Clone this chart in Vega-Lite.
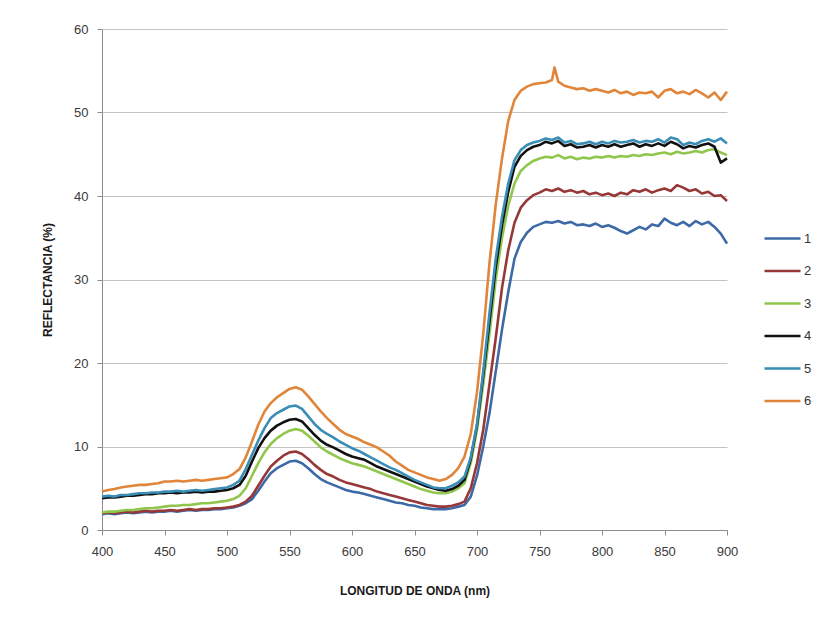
{
  "$schema": "https://vega.github.io/schema/vega-lite/v6.json",
  "autosize": "none",
  "width": 625,
  "height": 501,
  "padding": {"left": 102, "top": 29, "right": 93, "bottom": 90},
  "background": "white",
  "config": {
    "view": {"stroke": null},
    "font": "Liberation Sans Narrow, Liberation Sans, sans-serif",
    "axis": {
      "labelFont": "Liberation Sans Narrow, Liberation Sans, sans-serif",
      "titleFont": "Liberation Sans Narrow, Liberation Sans, sans-serif",
      "labelColor": "#3a3a3a",
      "titleColor": "#1a1a1a",
      "domainColor": "#8c8c8c",
      "tickColor": "#8c8c8c",
      "gridColor": "#c4c4c4",
      "labelFontSize": 13,
      "titleFontSize": 12,
      "titleFontWeight": "bold"
    },
    "legend": {
      "labelFont": "Liberation Sans Narrow, Liberation Sans, sans-serif",
      "labelFontSize": 13,
      "labelColor": "#333333"
    }
  },
  "data": {
    "values": [
      {"nm":400,"s":"1","r":1.9},{"nm":405,"s":"1","r":2.0},{"nm":410,"s":"1","r":1.9},{"nm":415,"s":"1","r":2.0},{"nm":420,"s":"1","r":2.1},{"nm":425,"s":"1","r":2.0},{"nm":430,"s":"1","r":2.1},{"nm":435,"s":"1","r":2.2},{"nm":440,"s":"1","r":2.1},{"nm":445,"s":"1","r":2.2},
      {"nm":450,"s":"1","r":2.2},{"nm":455,"s":"1","r":2.3},{"nm":460,"s":"1","r":2.2},{"nm":465,"s":"1","r":2.3},{"nm":470,"s":"1","r":2.4},{"nm":475,"s":"1","r":2.3},{"nm":480,"s":"1","r":2.4},{"nm":485,"s":"1","r":2.4},{"nm":490,"s":"1","r":2.5},{"nm":495,"s":"1","r":2.5},
      {"nm":500,"s":"1","r":2.6},{"nm":505,"s":"1","r":2.7},{"nm":510,"s":"1","r":2.9},{"nm":515,"s":"1","r":3.2},{"nm":520,"s":"1","r":3.7},{"nm":525,"s":"1","r":4.7},{"nm":530,"s":"1","r":5.8},{"nm":535,"s":"1","r":6.8},{"nm":540,"s":"1","r":7.4},{"nm":545,"s":"1","r":7.8},
      {"nm":550,"s":"1","r":8.2},{"nm":555,"s":"1","r":8.3},{"nm":560,"s":"1","r":8.0},{"nm":565,"s":"1","r":7.4},{"nm":570,"s":"1","r":6.7},{"nm":575,"s":"1","r":6.1},{"nm":580,"s":"1","r":5.7},{"nm":585,"s":"1","r":5.4},{"nm":590,"s":"1","r":5.1},{"nm":595,"s":"1","r":4.8},
      {"nm":600,"s":"1","r":4.6},{"nm":605,"s":"1","r":4.5},{"nm":610,"s":"1","r":4.3},{"nm":615,"s":"1","r":4.1},{"nm":620,"s":"1","r":3.9},{"nm":625,"s":"1","r":3.7},{"nm":630,"s":"1","r":3.5},{"nm":635,"s":"1","r":3.3},{"nm":640,"s":"1","r":3.2},{"nm":645,"s":"1","r":3.0},
      {"nm":650,"s":"1","r":2.9},{"nm":655,"s":"1","r":2.7},{"nm":660,"s":"1","r":2.6},{"nm":665,"s":"1","r":2.5},{"nm":670,"s":"1","r":2.5},{"nm":675,"s":"1","r":2.5},{"nm":680,"s":"1","r":2.6},{"nm":685,"s":"1","r":2.8},{"nm":690,"s":"1","r":3.0},{"nm":695,"s":"1","r":4.0},
      {"nm":700,"s":"1","r":6.5},{"nm":705,"s":"1","r":10.0},{"nm":710,"s":"1","r":14.0},{"nm":715,"s":"1","r":19.0},{"nm":720,"s":"1","r":24.0},{"nm":725,"s":"1","r":28.5},{"nm":730,"s":"1","r":32.5},{"nm":735,"s":"1","r":34.5},{"nm":740,"s":"1","r":35.6},{"nm":745,"s":"1","r":36.3},
      {"nm":750,"s":"1","r":36.6},{"nm":755,"s":"1","r":36.9},{"nm":760,"s":"1","r":36.8},{"nm":765,"s":"1","r":37.0},{"nm":770,"s":"1","r":36.7},{"nm":775,"s":"1","r":36.9},{"nm":780,"s":"1","r":36.5},{"nm":785,"s":"1","r":36.6},{"nm":790,"s":"1","r":36.4},{"nm":795,"s":"1","r":36.7},
      {"nm":800,"s":"1","r":36.3},{"nm":805,"s":"1","r":36.5},{"nm":810,"s":"1","r":36.2},{"nm":815,"s":"1","r":35.8},{"nm":820,"s":"1","r":35.5},{"nm":825,"s":"1","r":35.9},{"nm":830,"s":"1","r":36.3},{"nm":835,"s":"1","r":36.0},{"nm":840,"s":"1","r":36.6},{"nm":845,"s":"1","r":36.4},
      {"nm":850,"s":"1","r":37.3},{"nm":855,"s":"1","r":36.8},{"nm":860,"s":"1","r":36.5},{"nm":865,"s":"1","r":36.9},{"nm":870,"s":"1","r":36.4},{"nm":875,"s":"1","r":37.0},{"nm":880,"s":"1","r":36.6},{"nm":885,"s":"1","r":36.9},{"nm":890,"s":"1","r":36.3},{"nm":895,"s":"1","r":35.5},
      {"nm":900,"s":"1","r":34.3},

      {"nm":400,"s":"2","r":2.0},{"nm":405,"s":"2","r":2.1},{"nm":410,"s":"2","r":2.0},{"nm":415,"s":"2","r":2.1},{"nm":420,"s":"2","r":2.2},{"nm":425,"s":"2","r":2.1},{"nm":430,"s":"2","r":2.2},{"nm":435,"s":"2","r":2.3},{"nm":440,"s":"2","r":2.2},{"nm":445,"s":"2","r":2.3},
      {"nm":450,"s":"2","r":2.3},{"nm":455,"s":"2","r":2.4},{"nm":460,"s":"2","r":2.3},{"nm":465,"s":"2","r":2.4},{"nm":470,"s":"2","r":2.5},{"nm":475,"s":"2","r":2.4},{"nm":480,"s":"2","r":2.5},{"nm":485,"s":"2","r":2.5},{"nm":490,"s":"2","r":2.6},{"nm":495,"s":"2","r":2.6},
      {"nm":500,"s":"2","r":2.7},{"nm":505,"s":"2","r":2.8},{"nm":510,"s":"2","r":3.0},{"nm":515,"s":"2","r":3.4},{"nm":520,"s":"2","r":4.1},{"nm":525,"s":"2","r":5.3},{"nm":530,"s":"2","r":6.5},{"nm":535,"s":"2","r":7.6},{"nm":540,"s":"2","r":8.3},{"nm":545,"s":"2","r":8.9},
      {"nm":550,"s":"2","r":9.3},{"nm":555,"s":"2","r":9.4},{"nm":560,"s":"2","r":9.1},{"nm":565,"s":"2","r":8.5},{"nm":570,"s":"2","r":7.8},{"nm":575,"s":"2","r":7.2},{"nm":580,"s":"2","r":6.7},{"nm":585,"s":"2","r":6.4},{"nm":590,"s":"2","r":6.0},{"nm":595,"s":"2","r":5.7},
      {"nm":600,"s":"2","r":5.5},{"nm":605,"s":"2","r":5.3},{"nm":610,"s":"2","r":5.1},{"nm":615,"s":"2","r":4.9},{"nm":620,"s":"2","r":4.6},{"nm":625,"s":"2","r":4.4},{"nm":630,"s":"2","r":4.2},{"nm":635,"s":"2","r":4.0},{"nm":640,"s":"2","r":3.8},{"nm":645,"s":"2","r":3.6},
      {"nm":650,"s":"2","r":3.4},{"nm":655,"s":"2","r":3.2},{"nm":660,"s":"2","r":3.0},{"nm":665,"s":"2","r":2.9},{"nm":670,"s":"2","r":2.8},{"nm":675,"s":"2","r":2.8},{"nm":680,"s":"2","r":2.9},{"nm":685,"s":"2","r":3.1},{"nm":690,"s":"2","r":3.4},{"nm":695,"s":"2","r":5.0},
      {"nm":700,"s":"2","r":8.0},{"nm":705,"s":"2","r":12.0},{"nm":710,"s":"2","r":17.5},{"nm":715,"s":"2","r":23.0},{"nm":720,"s":"2","r":29.0},{"nm":725,"s":"2","r":33.5},{"nm":730,"s":"2","r":36.8},{"nm":735,"s":"2","r":38.6},{"nm":740,"s":"2","r":39.5},{"nm":745,"s":"2","r":40.1},
      {"nm":750,"s":"2","r":40.4},{"nm":755,"s":"2","r":40.8},{"nm":760,"s":"2","r":40.6},{"nm":765,"s":"2","r":40.9},{"nm":770,"s":"2","r":40.5},{"nm":775,"s":"2","r":40.7},{"nm":780,"s":"2","r":40.4},{"nm":785,"s":"2","r":40.6},{"nm":790,"s":"2","r":40.2},{"nm":795,"s":"2","r":40.4},
      {"nm":800,"s":"2","r":40.1},{"nm":805,"s":"2","r":40.3},{"nm":810,"s":"2","r":40.0},{"nm":815,"s":"2","r":40.4},{"nm":820,"s":"2","r":40.2},{"nm":825,"s":"2","r":40.7},{"nm":830,"s":"2","r":40.5},{"nm":835,"s":"2","r":40.8},{"nm":840,"s":"2","r":40.4},{"nm":845,"s":"2","r":40.7},
      {"nm":850,"s":"2","r":40.9},{"nm":855,"s":"2","r":40.6},{"nm":860,"s":"2","r":41.3},{"nm":865,"s":"2","r":41.0},{"nm":870,"s":"2","r":40.6},{"nm":875,"s":"2","r":40.8},{"nm":880,"s":"2","r":40.3},{"nm":885,"s":"2","r":40.5},{"nm":890,"s":"2","r":40.0},{"nm":895,"s":"2","r":40.1},
      {"nm":900,"s":"2","r":39.4},

      {"nm":400,"s":"3","r":2.1},{"nm":405,"s":"3","r":2.2},{"nm":410,"s":"3","r":2.2},{"nm":415,"s":"3","r":2.3},{"nm":420,"s":"3","r":2.4},{"nm":425,"s":"3","r":2.4},{"nm":430,"s":"3","r":2.5},{"nm":435,"s":"3","r":2.6},{"nm":440,"s":"3","r":2.6},{"nm":445,"s":"3","r":2.7},
      {"nm":450,"s":"3","r":2.8},{"nm":455,"s":"3","r":2.9},{"nm":460,"s":"3","r":2.9},{"nm":465,"s":"3","r":3.0},{"nm":470,"s":"3","r":3.0},{"nm":475,"s":"3","r":3.1},{"nm":480,"s":"3","r":3.2},{"nm":485,"s":"3","r":3.2},{"nm":490,"s":"3","r":3.3},{"nm":495,"s":"3","r":3.4},
      {"nm":500,"s":"3","r":3.5},{"nm":505,"s":"3","r":3.7},{"nm":510,"s":"3","r":4.1},{"nm":515,"s":"3","r":5.0},{"nm":520,"s":"3","r":6.5},{"nm":525,"s":"3","r":8.0},{"nm":530,"s":"3","r":9.3},{"nm":535,"s":"3","r":10.3},{"nm":540,"s":"3","r":11.0},{"nm":545,"s":"3","r":11.5},
      {"nm":550,"s":"3","r":11.9},{"nm":555,"s":"3","r":12.1},{"nm":560,"s":"3","r":11.9},{"nm":565,"s":"3","r":11.3},{"nm":570,"s":"3","r":10.6},{"nm":575,"s":"3","r":9.9},{"nm":580,"s":"3","r":9.4},{"nm":585,"s":"3","r":9.0},{"nm":590,"s":"3","r":8.6},{"nm":595,"s":"3","r":8.3},
      {"nm":600,"s":"3","r":8.0},{"nm":605,"s":"3","r":7.8},{"nm":610,"s":"3","r":7.6},{"nm":615,"s":"3","r":7.3},{"nm":620,"s":"3","r":7.0},{"nm":625,"s":"3","r":6.7},{"nm":630,"s":"3","r":6.4},{"nm":635,"s":"3","r":6.1},{"nm":640,"s":"3","r":5.8},{"nm":645,"s":"3","r":5.5},
      {"nm":650,"s":"3","r":5.2},{"nm":655,"s":"3","r":4.9},{"nm":660,"s":"3","r":4.7},{"nm":665,"s":"3","r":4.5},{"nm":670,"s":"3","r":4.4},{"nm":675,"s":"3","r":4.4},{"nm":680,"s":"3","r":4.6},{"nm":685,"s":"3","r":5.0},{"nm":690,"s":"3","r":5.6},{"nm":695,"s":"3","r":8.0},
      {"nm":700,"s":"3","r":12.0},{"nm":705,"s":"3","r":17.5},{"nm":710,"s":"3","r":23.5},{"nm":715,"s":"3","r":30.0},{"nm":720,"s":"3","r":35.0},{"nm":725,"s":"3","r":38.8},{"nm":730,"s":"3","r":41.5},{"nm":735,"s":"3","r":43.0},{"nm":740,"s":"3","r":43.7},{"nm":745,"s":"3","r":44.2},
      {"nm":750,"s":"3","r":44.5},{"nm":755,"s":"3","r":44.7},{"nm":760,"s":"3","r":44.6},{"nm":765,"s":"3","r":44.9},{"nm":770,"s":"3","r":44.5},{"nm":775,"s":"3","r":44.7},{"nm":780,"s":"3","r":44.4},{"nm":785,"s":"3","r":44.6},{"nm":790,"s":"3","r":44.5},{"nm":795,"s":"3","r":44.7},
      {"nm":800,"s":"3","r":44.6},{"nm":805,"s":"3","r":44.8},{"nm":810,"s":"3","r":44.6},{"nm":815,"s":"3","r":44.8},{"nm":820,"s":"3","r":44.7},{"nm":825,"s":"3","r":44.9},{"nm":830,"s":"3","r":44.8},{"nm":835,"s":"3","r":45.0},{"nm":840,"s":"3","r":44.9},{"nm":845,"s":"3","r":45.1},
      {"nm":850,"s":"3","r":45.2},{"nm":855,"s":"3","r":45.0},{"nm":860,"s":"3","r":45.3},{"nm":865,"s":"3","r":45.1},{"nm":870,"s":"3","r":45.2},{"nm":875,"s":"3","r":45.4},{"nm":880,"s":"3","r":45.2},{"nm":885,"s":"3","r":45.5},{"nm":890,"s":"3","r":45.6},{"nm":895,"s":"3","r":45.2},
      {"nm":900,"s":"3","r":44.9},

      {"nm":400,"s":"4","r":3.8},{"nm":405,"s":"4","r":3.9},{"nm":410,"s":"4","r":3.9},{"nm":415,"s":"4","r":4.0},{"nm":420,"s":"4","r":4.1},{"nm":425,"s":"4","r":4.1},{"nm":430,"s":"4","r":4.2},{"nm":435,"s":"4","r":4.3},{"nm":440,"s":"4","r":4.3},{"nm":445,"s":"4","r":4.4},
      {"nm":450,"s":"4","r":4.4},{"nm":455,"s":"4","r":4.5},{"nm":460,"s":"4","r":4.4},{"nm":465,"s":"4","r":4.5},{"nm":470,"s":"4","r":4.5},{"nm":475,"s":"4","r":4.6},{"nm":480,"s":"4","r":4.5},{"nm":485,"s":"4","r":4.6},{"nm":490,"s":"4","r":4.6},{"nm":495,"s":"4","r":4.7},
      {"nm":500,"s":"4","r":4.8},{"nm":505,"s":"4","r":5.0},{"nm":510,"s":"4","r":5.4},{"nm":515,"s":"4","r":6.5},{"nm":520,"s":"4","r":8.2},{"nm":525,"s":"4","r":9.8},{"nm":530,"s":"4","r":11.0},{"nm":535,"s":"4","r":11.9},{"nm":540,"s":"4","r":12.5},{"nm":545,"s":"4","r":12.9},
      {"nm":550,"s":"4","r":13.2},{"nm":555,"s":"4","r":13.3},{"nm":560,"s":"4","r":13.0},{"nm":565,"s":"4","r":12.2},{"nm":570,"s":"4","r":11.4},{"nm":575,"s":"4","r":10.7},{"nm":580,"s":"4","r":10.2},{"nm":585,"s":"4","r":9.9},{"nm":590,"s":"4","r":9.5},{"nm":595,"s":"4","r":9.1},
      {"nm":600,"s":"4","r":8.8},{"nm":605,"s":"4","r":8.6},{"nm":610,"s":"4","r":8.4},{"nm":615,"s":"4","r":8.0},{"nm":620,"s":"4","r":7.6},{"nm":625,"s":"4","r":7.3},{"nm":630,"s":"4","r":7.0},{"nm":635,"s":"4","r":6.7},{"nm":640,"s":"4","r":6.4},{"nm":645,"s":"4","r":6.1},
      {"nm":650,"s":"4","r":5.8},{"nm":655,"s":"4","r":5.5},{"nm":660,"s":"4","r":5.2},{"nm":665,"s":"4","r":5.0},{"nm":670,"s":"4","r":4.8},{"nm":675,"s":"4","r":4.7},{"nm":680,"s":"4","r":4.9},{"nm":685,"s":"4","r":5.3},{"nm":690,"s":"4","r":6.0},{"nm":695,"s":"4","r":8.5},
      {"nm":700,"s":"4","r":12.5},{"nm":705,"s":"4","r":18.5},{"nm":710,"s":"4","r":25.0},{"nm":715,"s":"4","r":31.5},{"nm":720,"s":"4","r":36.5},{"nm":725,"s":"4","r":40.5},{"nm":730,"s":"4","r":43.5},{"nm":735,"s":"4","r":44.8},{"nm":740,"s":"4","r":45.5},{"nm":745,"s":"4","r":45.9},
      {"nm":750,"s":"4","r":46.1},{"nm":755,"s":"4","r":46.5},{"nm":760,"s":"4","r":46.3},{"nm":765,"s":"4","r":46.6},{"nm":770,"s":"4","r":46.0},{"nm":775,"s":"4","r":46.2},{"nm":780,"s":"4","r":45.8},{"nm":785,"s":"4","r":45.9},{"nm":790,"s":"4","r":46.1},{"nm":795,"s":"4","r":45.8},
      {"nm":800,"s":"4","r":46.1},{"nm":805,"s":"4","r":45.9},{"nm":810,"s":"4","r":46.2},{"nm":815,"s":"4","r":45.9},{"nm":820,"s":"4","r":46.1},{"nm":825,"s":"4","r":46.3},{"nm":830,"s":"4","r":45.9},{"nm":835,"s":"4","r":46.2},{"nm":840,"s":"4","r":46.0},{"nm":845,"s":"4","r":46.3},
      {"nm":850,"s":"4","r":46.0},{"nm":855,"s":"4","r":46.5},{"nm":860,"s":"4","r":46.2},{"nm":865,"s":"4","r":45.7},{"nm":870,"s":"4","r":46.0},{"nm":875,"s":"4","r":45.8},{"nm":880,"s":"4","r":46.1},{"nm":885,"s":"4","r":46.3},{"nm":890,"s":"4","r":45.9},{"nm":895,"s":"4","r":44.0},
      {"nm":900,"s":"4","r":44.5},

      {"nm":400,"s":"5","r":4.0},{"nm":405,"s":"5","r":4.1},{"nm":410,"s":"5","r":4.0},{"nm":415,"s":"5","r":4.2},{"nm":420,"s":"5","r":4.2},{"nm":425,"s":"5","r":4.3},{"nm":430,"s":"5","r":4.4},{"nm":435,"s":"5","r":4.4},{"nm":440,"s":"5","r":4.5},{"nm":445,"s":"5","r":4.5},
      {"nm":450,"s":"5","r":4.6},{"nm":455,"s":"5","r":4.6},{"nm":460,"s":"5","r":4.7},{"nm":465,"s":"5","r":4.6},{"nm":470,"s":"5","r":4.7},{"nm":475,"s":"5","r":4.8},{"nm":480,"s":"5","r":4.7},{"nm":485,"s":"5","r":4.8},{"nm":490,"s":"5","r":4.9},{"nm":495,"s":"5","r":5.0},
      {"nm":500,"s":"5","r":5.1},{"nm":505,"s":"5","r":5.4},{"nm":510,"s":"5","r":5.9},{"nm":515,"s":"5","r":7.3},{"nm":520,"s":"5","r":9.0},{"nm":525,"s":"5","r":10.7},{"nm":530,"s":"5","r":12.2},{"nm":535,"s":"5","r":13.4},{"nm":540,"s":"5","r":14.0},{"nm":545,"s":"5","r":14.4},
      {"nm":550,"s":"5","r":14.8},{"nm":555,"s":"5","r":14.9},{"nm":560,"s":"5","r":14.5},{"nm":565,"s":"5","r":13.6},{"nm":570,"s":"5","r":12.7},{"nm":575,"s":"5","r":12.0},{"nm":580,"s":"5","r":11.5},{"nm":585,"s":"5","r":11.1},{"nm":590,"s":"5","r":10.6},{"nm":595,"s":"5","r":10.2},
      {"nm":600,"s":"5","r":9.8},{"nm":605,"s":"5","r":9.5},{"nm":610,"s":"5","r":9.1},{"nm":615,"s":"5","r":8.7},{"nm":620,"s":"5","r":8.3},{"nm":625,"s":"5","r":7.9},{"nm":630,"s":"5","r":7.5},{"nm":635,"s":"5","r":7.2},{"nm":640,"s":"5","r":6.8},{"nm":645,"s":"5","r":6.4},
      {"nm":650,"s":"5","r":6.0},{"nm":655,"s":"5","r":5.7},{"nm":660,"s":"5","r":5.4},{"nm":665,"s":"5","r":5.1},{"nm":670,"s":"5","r":5.0},{"nm":675,"s":"5","r":5.0},{"nm":680,"s":"5","r":5.3},{"nm":685,"s":"5","r":5.7},{"nm":690,"s":"5","r":6.4},{"nm":695,"s":"5","r":8.7},
      {"nm":700,"s":"5","r":12.7},{"nm":705,"s":"5","r":19.0},{"nm":710,"s":"5","r":26.0},{"nm":715,"s":"5","r":32.5},{"nm":720,"s":"5","r":37.5},{"nm":725,"s":"5","r":41.5},{"nm":730,"s":"5","r":44.3},{"nm":735,"s":"5","r":45.5},{"nm":740,"s":"5","r":46.1},{"nm":745,"s":"5","r":46.4},
      {"nm":750,"s":"5","r":46.6},{"nm":755,"s":"5","r":46.9},{"nm":760,"s":"5","r":46.7},{"nm":765,"s":"5","r":47.0},{"nm":770,"s":"5","r":46.4},{"nm":775,"s":"5","r":46.6},{"nm":780,"s":"5","r":46.2},{"nm":785,"s":"5","r":46.3},{"nm":790,"s":"5","r":46.5},{"nm":795,"s":"5","r":46.2},
      {"nm":800,"s":"5","r":46.5},{"nm":805,"s":"5","r":46.3},{"nm":810,"s":"5","r":46.6},{"nm":815,"s":"5","r":46.4},{"nm":820,"s":"5","r":46.5},{"nm":825,"s":"5","r":46.7},{"nm":830,"s":"5","r":46.4},{"nm":835,"s":"5","r":46.6},{"nm":840,"s":"5","r":46.5},{"nm":845,"s":"5","r":46.8},
      {"nm":850,"s":"5","r":46.4},{"nm":855,"s":"5","r":47.0},{"nm":860,"s":"5","r":46.8},{"nm":865,"s":"5","r":46.1},{"nm":870,"s":"5","r":46.4},{"nm":875,"s":"5","r":46.2},{"nm":880,"s":"5","r":46.6},{"nm":885,"s":"5","r":46.8},{"nm":890,"s":"5","r":46.5},{"nm":895,"s":"5","r":46.9},
      {"nm":900,"s":"5","r":46.3},

      {"nm":400,"s":"6","r":4.6},{"nm":405,"s":"6","r":4.8},{"nm":410,"s":"6","r":4.9},{"nm":415,"s":"6","r":5.1},{"nm":420,"s":"6","r":5.2},{"nm":425,"s":"6","r":5.3},{"nm":430,"s":"6","r":5.4},{"nm":435,"s":"6","r":5.4},{"nm":440,"s":"6","r":5.5},{"nm":445,"s":"6","r":5.6},
      {"nm":450,"s":"6","r":5.8},{"nm":455,"s":"6","r":5.8},{"nm":460,"s":"6","r":5.9},{"nm":465,"s":"6","r":5.8},{"nm":470,"s":"6","r":5.9},{"nm":475,"s":"6","r":6.0},{"nm":480,"s":"6","r":5.9},{"nm":485,"s":"6","r":6.0},{"nm":490,"s":"6","r":6.1},{"nm":495,"s":"6","r":6.2},
      {"nm":500,"s":"6","r":6.3},{"nm":505,"s":"6","r":6.7},{"nm":510,"s":"6","r":7.3},{"nm":515,"s":"6","r":8.7},{"nm":520,"s":"6","r":10.6},{"nm":525,"s":"6","r":12.6},{"nm":530,"s":"6","r":14.2},{"nm":535,"s":"6","r":15.2},{"nm":540,"s":"6","r":15.9},{"nm":545,"s":"6","r":16.4},
      {"nm":550,"s":"6","r":16.9},{"nm":555,"s":"6","r":17.1},{"nm":560,"s":"6","r":16.8},{"nm":565,"s":"6","r":16.0},{"nm":570,"s":"6","r":15.1},{"nm":575,"s":"6","r":14.2},{"nm":580,"s":"6","r":13.4},{"nm":585,"s":"6","r":12.7},{"nm":590,"s":"6","r":12.0},{"nm":595,"s":"6","r":11.5},
      {"nm":600,"s":"6","r":11.2},{"nm":605,"s":"6","r":10.9},{"nm":610,"s":"6","r":10.5},{"nm":615,"s":"6","r":10.2},{"nm":620,"s":"6","r":9.9},{"nm":625,"s":"6","r":9.4},{"nm":630,"s":"6","r":8.9},{"nm":635,"s":"6","r":8.2},{"nm":640,"s":"6","r":7.7},{"nm":645,"s":"6","r":7.2},
      {"nm":650,"s":"6","r":6.9},{"nm":655,"s":"6","r":6.6},{"nm":660,"s":"6","r":6.3},{"nm":665,"s":"6","r":6.1},{"nm":670,"s":"6","r":5.9},{"nm":675,"s":"6","r":6.1},{"nm":680,"s":"6","r":6.6},{"nm":685,"s":"6","r":7.4},{"nm":690,"s":"6","r":8.8},{"nm":695,"s":"6","r":11.5},
      {"nm":700,"s":"6","r":16.5},{"nm":705,"s":"6","r":23.5},{"nm":710,"s":"6","r":32.0},{"nm":715,"s":"6","r":39.0},{"nm":720,"s":"6","r":44.5},{"nm":725,"s":"6","r":49.0},{"nm":730,"s":"6","r":51.5},{"nm":735,"s":"6","r":52.6},{"nm":740,"s":"6","r":53.1},{"nm":745,"s":"6","r":53.4},
      {"nm":750,"s":"6","r":53.5},{"nm":755,"s":"6","r":53.6},{"nm":760,"s":"6","r":53.9},{"nm":762,"s":"6","r":55.4},{"nm":765,"s":"6","r":53.7},{"nm":770,"s":"6","r":53.2},{"nm":775,"s":"6","r":53.0},{"nm":780,"s":"6","r":52.8},{"nm":785,"s":"6","r":52.9},{"nm":790,"s":"6","r":52.6},{"nm":795,"s":"6","r":52.8},
      {"nm":800,"s":"6","r":52.6},{"nm":805,"s":"6","r":52.4},{"nm":810,"s":"6","r":52.7},{"nm":815,"s":"6","r":52.3},{"nm":820,"s":"6","r":52.5},{"nm":825,"s":"6","r":52.1},{"nm":830,"s":"6","r":52.4},{"nm":835,"s":"6","r":52.3},{"nm":840,"s":"6","r":52.5},{"nm":845,"s":"6","r":51.8},
      {"nm":850,"s":"6","r":52.6},{"nm":855,"s":"6","r":52.8},{"nm":860,"s":"6","r":52.3},{"nm":865,"s":"6","r":52.5},{"nm":870,"s":"6","r":52.2},{"nm":875,"s":"6","r":52.7},{"nm":880,"s":"6","r":52.3},{"nm":885,"s":"6","r":51.8},{"nm":890,"s":"6","r":52.4},{"nm":895,"s":"6","r":51.5},
      {"nm":900,"s":"6","r":52.5}
    ]
  },
  "mark": {"type": "line", "strokeWidth": 2.6, "strokeJoin": "round"},
  "encoding": {
    "x": {
      "field": "nm",
      "type": "quantitative",
      "scale": {"domain": [400, 900], "nice": false, "zero": false},
      "axis": {
        "title": "LONGITUD DE ONDA  (nm)",
        "values": [400, 450, 500, 550, 600, 650, 700, 750, 800, 850, 900],
        "grid": false,
        "tickSize": 5,
        "labelPadding": 10,
        "titlePadding": 27,
        "labelFlush": false
      }
    },
    "y": {
      "field": "r",
      "type": "quantitative",
      "scale": {"domain": [0, 60], "nice": false},
      "axis": {
        "title": "REFLECTANCIA (%)",
        "values": [0, 10, 20, 30, 40, 50, 60],
        "grid": true,
        "tickSize": 5,
        "labelPadding": 9,
        "titlePadding": 19
      }
    },
    "color": {
      "field": "s",
      "type": "nominal",
      "scale": {
        "domain": ["1", "2", "3", "4", "5", "6"],
        "range": ["#3d6aa6", "#963838", "#90c64c", "#111111", "#3a8db5", "#e0853a"]
      },
      "legend": {
        "title": null,
        "orient": "none",
        "legendX": 673,
        "legendY": 202,
        "padding": 0,
        "symbolType": "M-3,0H3",
        "symbolSize": 144,
        "symbolStrokeWidth": 2.5,
        "symbolFillColor": "transparent",
        "labelOffset": 14,
        "rowPadding": 17.5
      }
    }
  }
}
